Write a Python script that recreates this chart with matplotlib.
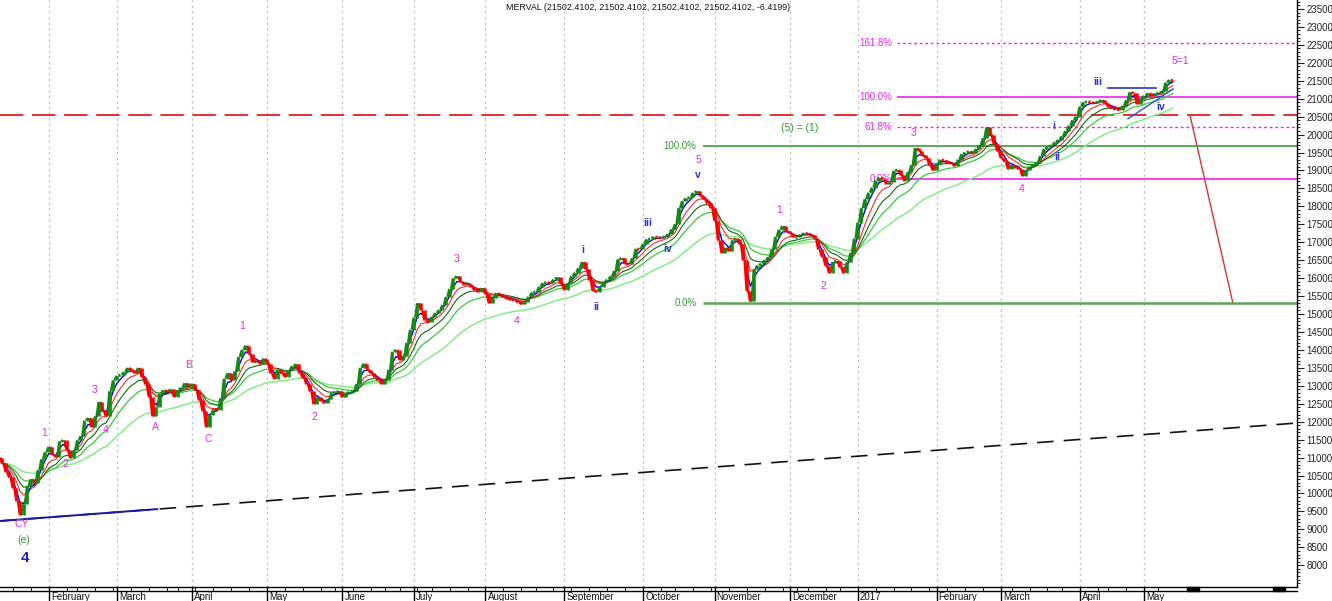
import matplotlib
matplotlib.use('Agg')
import matplotlib.pyplot as plt
import matplotlib.transforms as mtransforms
from matplotlib.patches import Rectangle
from matplotlib.lines import Line2D
from matplotlib.collections import LineCollection
import numpy as np
import pandas as pd

plt.rcParams['font.family'] = ['Liberation Sans', 'DejaVu Sans']

# MERVAL trading days, Jan 13 2016 - May 12 2017 (market holidays removed)
holidays = ['2016-02-08', '2016-02-09', '2016-03-24', '2016-03-25', '2016-05-25',
            '2016-06-17', '2016-06-20', '2016-07-08', '2016-08-15', '2016-10-10',
            '2016-11-28', '2016-12-08', '2016-12-09', '2016-12-23', '2017-02-27',
            '2017-02-28', '2017-03-24', '2017-04-13', '2017-04-14', '2017-05-01']
dates = pd.bdate_range('2016-01-13', '2017-05-12')
dates = dates[~dates.isin(pd.to_datetime(holidays))]

# daily closes
close_2016_01 = [10850, 10600, 10450, 10150, 9800, 9400, 9700, 10200, 10400, 10300, 10650, 10950, 11150]
close_2016_02 = [11300, 11080, 11020, 11450, 11480, 11220, 11000, 11200, 11480, 11600, 12030, 12100, 11850,
                 12150, 12550, 12330, 12150, 12850, 13150]
close_2016_03 = [13280, 13300, 13380, 13500, 13440, 13350, 13500, 13250, 13050, 12700, 12150, 12400, 12780,
                 12880, 12830, 12900, 12700, 12880, 12950, 13070, 12980]
close_2016_04 = [13050, 12880, 12600, 12300, 11850, 12200, 12350, 12330, 12650, 13200, 13350, 13150, 13400,
                 13800, 14000, 14120, 13880, 13650, 13700, 13620, 13760]
close_2016_05 = [13620, 13350, 13200, 13430, 13350, 13250, 13430, 13550, 13600, 13350, 13220, 13050, 12850,
                 12500, 12680, 12580, 12520, 12620, 12800, 12820, 12850]
close_2016_06 = [12680, 12780, 12830, 12850, 13050, 13500, 13620, 13450, 13350, 13250, 13150, 13050, 13150,
                 13450, 13950, 14000, 13720, 13820, 14200, 14560]
close_2016_07 = [14900, 15300, 15100, 14820, 14780, 14920, 15030, 15100, 15250, 15480, 15700, 16000, 16050,
                 15900, 15820, 15850, 15750, 15660, 15620, 15720]
close_2016_08 = [15560, 15300, 15450, 15580, 15530, 15470, 15430, 15400, 15380, 15330, 15280, 15340, 15480,
                 15600, 15620, 15760, 15860, 15880, 15860, 15960, 16020, 15850]
close_2016_09 = [15680, 15860, 16050, 16150, 16280, 16450, 16250, 15950, 15650, 15620, 15760, 15880, 15960,
                 16050, 16200, 16520, 16560, 16400, 16380, 16550, 16820, 16800]
close_2016_10 = [16950, 17080, 17100, 17150, 17130, 17120, 17160, 17220, 17360, 17500, 17950, 18150, 18220,
                 18250, 18380, 18420, 18300, 18200, 18080, 17950]
close_2016_11 = [17600, 17050, 16700, 16850, 16750, 17050, 17100, 16950, 16500, 15650, 15350, 16250, 16350,
                 16400, 16500, 16580, 16800, 17150, 17350, 17450, 17300]
close_2016_12 = [17250, 17150, 17150, 17200, 17250, 17230, 17200, 17100, 16800, 16600, 16350, 16150, 16450,
                 16480, 16300, 16150, 16450, 16700, 17100]
close_2017_01 = [17550, 17950, 18200, 18380, 18520, 18720, 18800, 18750, 18620, 18680, 18990, 19020, 18870,
                 18720, 18950, 19150, 19620, 19550, 19420, 19350, 19150, 19000]
close_2017_02 = [19180, 19300, 19280, 19220, 19200, 19130, 19300, 19450, 19500, 19530, 19480, 19600, 19700,
                 19900, 20200, 20000, 19750, 19550]
close_2017_03 = [19350, 19250, 19050, 19150, 19080, 19050, 18850, 19000, 19100, 19150, 19220, 19400, 19600,
                 19650, 19700, 19780, 19850, 19950, 20100, 20250, 20400, 20500]
close_2017_04 = [20780, 20900, 20920, 20900, 20870, 20920, 20960, 20870, 20780, 20730, 20700, 20690, 20800,
                 20950, 21180, 21150, 20850, 21000]
close_2017_05 = [21080, 21150, 21090, 21140, 21160, 21200, 21450, 21520, 21502.41]

closes = (close_2016_01 + close_2016_02 + close_2016_03 + close_2016_04 + close_2016_05 + close_2016_06 +
          close_2016_07 + close_2016_08 + close_2016_09 + close_2016_10 + close_2016_11 + close_2016_12 +
          close_2017_01 + close_2017_02 + close_2017_03 + close_2017_04 + close_2017_05)

df = pd.DataFrame({'date': dates, 'close': closes})
df['prev'] = df['close'].shift(1).fillna(df['close'].iloc[0] + 150)
idx = np.arange(len(df))

# exponential moving averages (span, colour, width), slowest first
ma_specs = [(36, '#86ec86', 1.1), (16, '#3cc83c', 0.9), (10, '#0b6b0b', 0.8), (6, '#ff2a2a', 0.8), (3, '#0000ee', 1.0)]

# fib / wave levels
red_level = 20545
wave_green_levels = {'100.0%': 19690, '0.0%': 15305}
fib_magenta = {'161.8%': 22545, '100.0%': 21055, '61.8%': 20210, '0.0%': 18760}
trend_start = 9234
trend_end = 11964
red_drop = [(331.8, 20545), (343.8, 15300)]
blue_flat = [(308.9, 21295), (322.3, 21295)]
blue_support = [(314.5, 20440), (327.1, 21270)]
strip_blocks = [(331.0, 334.3), (355.0, 358.3)]

wave_labels = [
    ('CY', 5.5, 9150, '#ee22ee', 7.5, 'normal'),
    ('(e)', 6.1, 8705, '#339933', 7.5, 'normal'),
    ('4', 6.4, 8200, '#2222cc', 11, 'bold'),
    ('1', 11.7, 11685, '#ee22ee', 7.5, 'normal'),
    ('2', 17.8, 10822, '#ee22ee', 7.5, 'normal'),
    ('3', 25.7, 12884, '#ee22ee', 7.5, 'normal'),
    ('4', 29.0, 11769, '#ee22ee', 7.5, 'normal'),
    ('A', 42.7, 11853, '#ee22ee', 7.5, 'normal'),
    ('B', 52.2, 13580, '#ee22ee', 7.5, 'normal'),
    ('C', 57.5, 11518, '#ee22ee', 7.5, 'normal'),
    ('1', 67.0, 14667, '#ee22ee', 7.5, 'normal'),
    ('2', 87.1, 12131, '#ee22ee', 7.5, 'normal'),
    ('3', 126.8, 16533, '#ee22ee', 7.5, 'normal'),
    ('4', 143.8, 14806, '#ee22ee', 7.5, 'normal'),
    ('i', 162.3, 16784, '#3333cc', 7.5, 'bold'),
    ('ii', 165.9, 15196, '#3333cc', 7.5, 'bold'),
    ('iii', 180.4, 17536, '#3333cc', 7.5, 'bold'),
    ('iv', 186.0, 16812, '#3333cc', 7.5, 'bold'),
    ('5', 194.4, 19291, '#ee22ee', 7.5, 'normal'),
    ('v', 194.4, 18873, '#3333cc', 7.5, 'bold'),
    ('1', 217.0, 17898, '#ee22ee', 7.5, 'normal'),
    ('2', 229.3, 15781, '#ee22ee', 7.5, 'normal'),
    ('3', 254.7, 20044, '#ee22ee', 7.5, 'normal'),
    ('4', 284.9, 18483, '#ee22ee', 7.5, 'normal'),
    ('i', 293.8, 20239, '#3333cc', 7.5, 'bold'),
    ('ii', 294.7, 19375, '#3333cc', 7.5, 'bold'),
    ('iii', 306.1, 21464, '#3333cc', 7.5, 'bold'),
    ('iv', 323.7, 20768, '#3333cc', 7.5, 'bold'),
    ('5=1', 329.0, 22050, '#ee22ee', 7.5, 'normal'),
    ('(5) = (1)', 222.9, 20183, '#339933', 7.5, 'normal'),
]

month_names = {1: '2017', 2: 'February', 3: 'March', 4: 'April', 5: 'May', 6: 'June', 7: 'July',
               8: 'August', 9: 'September', 10: 'October', 11: 'November', 12: 'December'}

fig = plt.figure(figsize=(13.32, 6.01), dpi=100)
ax = fig.add_axes([0, 14 / 601, 1297 / 1332, 587 / 601])
ax.set_xlim(-0.6, 361.7)
ax.set_ylim(7395, 23749)

# month grid
month_start = df.groupby([df['date'].dt.year, df['date'].dt.month]).head(1)
month_start = month_start.iloc[1:]
for i in month_start.index:
    ax.axvline(i, color='#c4c4c4', lw=0.9, ls=(0, (2, 2.5)), zorder=0)

for span, col, w in ma_specs:
    ma = df['close'].ewm(span=span, adjust=False).mean()
    ax.plot(idx, ma, color=col, lw=w, zorder=3)

# price: previous close -> close, green up / red down
up = (df['close'] >= df['prev']).to_numpy()
segs = [[(i - 0.55, p), (i, c)] for i, p, c in zip(idx, df['prev'], df['close'])]
seg_cols = np.where(up, '#138a13', '#ff0000')
ax.add_collection(LineCollection(segs, colors=seg_cols, linewidths=2.0, zorder=4, capstyle='butt'))
ax.vlines(idx, df[['prev', 'close']].min(axis=1), df[['prev', 'close']].max(axis=1),
          colors=seg_cols, lw=1.9, zorder=4)

# long trendline
x0, x1 = ax.get_xlim()
ax.plot([x0, x1], [trend_start, trend_end], color='#111111', lw=1.2, ls=(0, (10, 6)), zorder=2)
split = 43.3
ax.plot([x0, split], [trend_start, np.interp(split, [x0, x1], [trend_start, trend_end])],
        color='#1a1aa0', lw=1.4, zorder=2)

# red resistance + projection
ax.axhline(red_level, color='#e03030', lw=1.4, ls=(0, (12, 4.5)), zorder=2)
ax.plot([p[0] for p in red_drop], [p[1] for p in red_drop], color='#e03030', lw=1.0, zorder=2)

# green wave (5)=(1) levels
ax.hlines(wave_green_levels['100.0%'], 195.8, x1, color='#3f993f', lw=1.2, zorder=2)
ax.hlines(wave_green_levels['0.0%'], 195.8, x1, color='#5aa55a', lw=1.8, zorder=2)
for lab, val in wave_green_levels.items():
    ax.text(194.0, val, lab, color='#339933', fontsize=7, ha='right', va='center')

# magenta fib levels
for lab, val in fib_magenta.items():
    if lab in ('161.8%', '61.8%'):
        ax.hlines(val, 249.9, x1, color='#ee22ee', lw=1.0, ls=(0, (2, 2)), zorder=2)
    else:
        ax.hlines(val, 249.9, x1, color='#ee22ee', lw=1.2, zorder=2)
    ax.text(248.6, val, lab, color='#ee22ee', fontsize=7, ha='right', va='center')

ax.plot([p[0] for p in blue_flat], [p[1] for p in blue_flat], color='#2233bb', lw=1.2, zorder=5)
ax.plot([p[0] for p in blue_support], [p[1] for p in blue_support], color='#3355ee', lw=1.0, zorder=5)

for txt, xx, yy, col, fs, fw in wave_labels:
    ax.text(xx, yy, txt, color=col, fontsize=fs, fontweight=fw, ha='center', va='center', zorder=6)

# axes styling
ax.spines['top'].set_visible(False)
ax.spines['left'].set_visible(False)
ax.spines['right'].set_linewidth(1.0)
ax.spines['bottom'].set_linewidth(1.0)
ax.yaxis.tick_right()
ax.set_yticks(np.arange(8000, 23501, 500))
ax.set_yticks(np.arange(7500, 23701, 100), minor=True)
ax.tick_params(axis='y', which='major', labelsize=7, length=5, pad=2, colors='#222222')
ax.tick_params(axis='y', which='minor', length=2.5)

# bottom date strip
week_start = df.index[df['date'].dt.weekday.diff().fillna(1) < 0]
ax.set_xticks([])
ax.set_xticks(week_start, minor=True)
ax.tick_params(axis='x', which='minor', length=3, direction='out')
strip = mtransforms.blended_transform_factory(ax.transData, ax.transAxes)
hstrip = 4 / 587
fig.add_artist(Line2D([0, 1297 / 1332], [10 / 601, 10 / 601], color='black', lw=1.0))
for i in month_start.index:
    ax.plot([i, i], [0, -14 / 587], color='black', lw=1.0, transform=strip, clip_on=False)
    m = df.loc[i, 'date'].month
    ax.text(i + 0.6, -5 / 587, month_names[m], transform=strip, fontsize=7, ha='left', va='top',
            color='#111111', clip_on=False)
for a, b in strip_blocks:
    ax.add_patch(Rectangle((a, -hstrip), b - a, hstrip, transform=strip, color='black', clip_on=False))

fig.text(648 / 1332, 1 - 7 / 601, 'MERVAL (21502.4102, 21502.4102, 21502.4102, 21502.4102, -6.4199)',
         ha='center', va='center', fontsize=6.4, color='#111111')

fig.savefig('out.png', dpi=100)
